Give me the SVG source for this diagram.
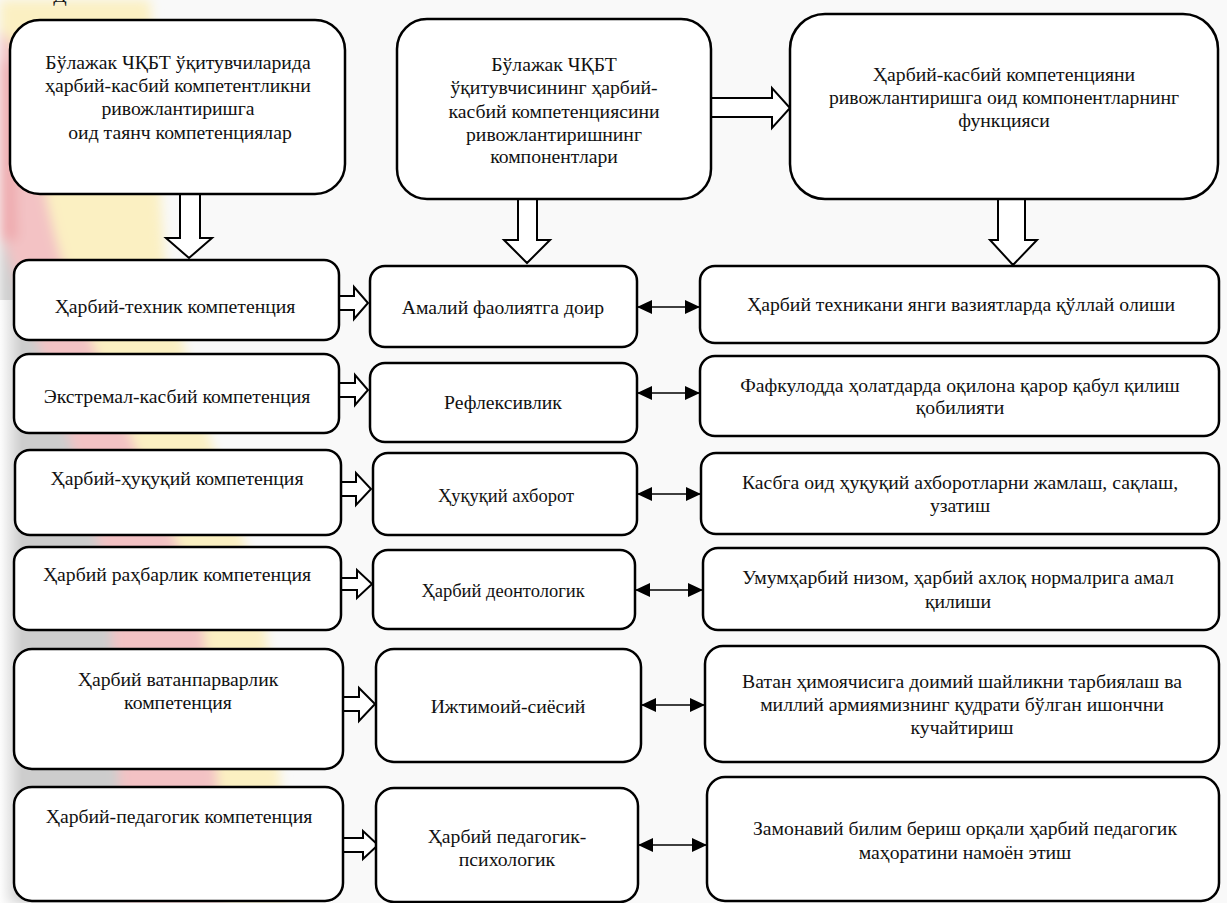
<svg xmlns="http://www.w3.org/2000/svg" width="1227" height="903" viewBox="0 0 1227 903">
<style>
.box{fill:#fff;stroke:#000;stroke-width:2.5}
.t{font-family:"Liberation Serif","Times New Roman",serif;font-size:19.7px;fill:#111;text-anchor:middle}
.sm{font-size:18.5px}
.blk{fill:#fff;stroke:#000;stroke-width:2;stroke-linejoin:miter}
.dbl{stroke:#000;stroke-width:1.5;fill:none;marker-start:url(#ah);marker-end:url(#ah)}
</style>
<defs>
<marker id="ah" markerUnits="userSpaceOnUse" markerWidth="15" markerHeight="14" refX="15" refY="7" orient="auto-start-reverse"><path d="M0,0 L15,7 L0,14 z" fill="#000"/></marker>
<filter id="bl" x="-20%" y="-5%" width="140%" height="110%"><feGaussianBlur stdDeviation="6"/></filter>
<linearGradient id="edge" x1="0" x2="1" y1="0" y2="0"><stop offset="0" stop-color="#fff" stop-opacity="0.9"/><stop offset="1" stop-color="#fff" stop-opacity="0"/></linearGradient>
</defs>
<rect width="1227" height="903" fill="#f9f9f9"/>
<g id="decor" filter="url(#bl)">
<path d="M0,0 L150,0 C155,80 160,200 165,260 C190,400 240,520 262,600 C275,700 282,800 288,903 L0,903 z" fill="#fbf0c2"/>
<path d="M0,30 C10,40 18,50 22,60 C35,150 50,220 62,260 C110,400 170,520 200,600 C212,700 220,800 225,903 L0,903 z" fill="#f3c2c4"/>
<path d="M0,230 C40,350 90,480 110,600 C116,700 120,800 124,903 L0,903 z" fill="#cdcdcd"/>
<path d="M0,60 C4,60 8,62 12,70 C14,130 16,200 18,240 L0,240 z" fill="#eeaaae"/>
</g>
<rect x="0" y="300" width="22" height="603" fill="url(#edge)"/>
<text class="t" x="60" y="2">Д</text>
<g id="connectors">
<polygon class="blk" points="180,194 200,194 200,238 212,238 189,258 166,238 180,238"/>
<polygon class="blk" points="518,199 537,199 537,240 550,240 527,263 504,240 518,240"/>
<polygon class="blk" points="998,199 1025,199 1025,240 1037,240 1013,265 990,240 998,240"/>
<polygon class="blk" points="711,98 772,98 772,88 790,108 772,128 772,117 711,117"/>
<polygon class="blk" points="339,296 354,296 354,287 368,303 354,319 354,310 339,310"/>
<polygon class="blk" points="339,383 355,383 355,375 368,390 355,405 355,397 339,397"/>
<polygon class="blk" points="341,482 356,482 356,473 371,489 356,505 356,496 341,496"/>
<polygon class="blk" points="341,578 357,578 357,570 372,584 357,598 357,590 341,590"/>
<polygon class="blk" points="343,697 359,697 359,688 375,704 359,721 359,711 343,711"/>
<polygon class="blk" points="343,838 363,838 363,831 378,845 363,859 363,852 343,852"/>
<line class="dbl" x1="637" y1="307" x2="700" y2="307"/>
<line class="dbl" x1="637" y1="393" x2="700" y2="393"/>
<line class="dbl" x1="637" y1="494" x2="701" y2="494"/>
<line class="dbl" x1="635" y1="590" x2="703" y2="590"/>
<line class="dbl" x1="641" y1="705" x2="705" y2="705"/>
<line class="dbl" x1="638" y1="845" x2="707" y2="845"/>
</g>
<g id="n-top-left">
<rect class="box" x="10" y="20" width="335" height="174" rx="30"/>
<text class="t" x="178" y="69">Бўлажак ЧҚБТ ўқитувчиларида</text>
<text class="t" x="178" y="92">ҳарбий-касбий компетентликни</text>
<text class="t" x="178" y="115">ривожлантиришга</text>
<text class="t" x="180" y="139">оид таянч компетенциялар</text>
</g>
<g id="n-top-mid">
<rect class="box" x="397" y="19" width="314" height="180" rx="30"/>
<text class="t" x="554" y="71">Бўлажак ЧҚБТ</text>
<text class="t" x="554" y="94">ўқитувчисининг ҳарбий-</text>
<text class="t" x="554" y="118">касбий компетенциясини</text>
<text class="t" x="554" y="141">ривожлантиришнинг</text>
<text class="t" x="554" y="163">компонентлари</text>
</g>
<g id="n-top-right">
<rect class="box" x="790" y="14" width="428" height="185" rx="35"/>
<text class="t" x="1004" y="81">Ҳарбий-касбий компетенцияни</text>
<text class="t" x="1004" y="104">ривожлантиришга оид компонентларнинг</text>
<text class="t" x="1004" y="127">функцияси</text>
</g>
<g id="n-l1"><rect class="box" x="14" y="260" width="325" height="80" rx="15"/><text class="t" x="175" y="313">Ҳарбий-техник компетенция</text></g>
<g id="n-l2"><rect class="box" x="14" y="354" width="325" height="79" rx="15"/><text class="t" x="177" y="403">Экстремал-касбий компетенция</text></g>
<g id="n-l3"><rect class="box" x="15" y="450" width="326" height="85" rx="15"/><text class="t" x="177" y="485">Ҳарбий-ҳуқуқий компетенция</text></g>
<g id="n-l4"><rect class="box" x="14" y="547" width="327" height="83" rx="15"/><text class="t" x="177" y="581">Ҳарбий раҳбарлик компетенция</text></g>
<g id="n-l5"><rect class="box" x="14" y="649" width="329" height="120" rx="18"/><text class="t" x="178" y="686">Ҳарбий ватанпарварлик</text><text class="t" x="178" y="709">компетенция</text></g>
<g id="n-l6"><rect class="box" x="14" y="787" width="329" height="114" rx="18"/><text class="t" x="179" y="823">Ҳарбий-педагогик  компетенция</text></g>
<g id="n-m1"><rect class="box" x="370" y="266" width="267" height="81" rx="15"/><text class="t" x="503" y="314">Амалий фаолиятга доир</text></g>
<g id="n-m2"><rect class="box" x="370" y="363" width="267" height="79" rx="15"/><text class="t" x="503" y="409">Рефлексивлик</text></g>
<g id="n-m3"><rect class="box" x="373" y="453" width="264" height="82" rx="15"/><text class="t sm" x="506" y="502">Ҳуқуқий ахборот</text></g>
<g id="n-m4"><rect class="box" x="373" y="550" width="262" height="79" rx="15"/><text class="t sm" x="503" y="597">Ҳарбий деонтологик</text></g>
<g id="n-m5"><rect class="box" x="376" y="649" width="265" height="113" rx="18"/><text class="t" x="508" y="713">Ижтимоий-сиёсий</text></g>
<g id="n-m6"><rect class="box" x="376" y="788" width="262" height="114" rx="18"/><text class="t" x="507" y="843">Ҳарбий педагогик-</text><text class="t" x="507" y="866">психологик</text></g>
<g id="n-r1"><rect class="box" x="700" y="266" width="519" height="77" rx="15"/><text class="t" x="961" y="311">Ҳарбий техникани янги вазиятларда қўллай олиши</text></g>
<g id="n-r2"><rect class="box" x="700" y="356" width="519" height="80" rx="15"/><text class="t" x="960" y="392">Фафкулодда ҳолатдарда оқилона қарор қабул қилиш</text><text class="t" x="960" y="414">қобилияти</text></g>
<g id="n-r3"><rect class="box" x="701" y="453" width="518" height="81" rx="15"/><text class="t" x="960" y="489">Касбга оид ҳуқуқий ахборотларни жамлаш, сақлаш,</text><text class="t" x="960" y="512">узатиш</text></g>
<g id="n-r4"><rect class="box" x="703" y="548" width="516" height="82" rx="15"/><text class="t" x="958" y="584">Умумҳарбий низом, ҳарбий ахлоқ нормалрига амал</text><text class="t" x="958" y="608">қилиши</text></g>
<g id="n-r5"><rect class="box" x="705" y="646" width="514" height="116" rx="18"/><text class="t" x="962" y="688">Ватан ҳимоячисига доимий шайликни тарбиялаш ва</text><text class="t" x="962" y="711">миллий армиямизнинг қудрати бўлган ишончни</text><text class="t" x="962" y="734">кучайтириш</text></g>
<g id="n-r6"><rect class="box" x="707" y="777" width="512" height="124" rx="18"/><text class="t" x="965" y="835">Замонавий билим бериш орқали ҳарбий педагогик</text><text class="t" x="965" y="859">маҳоратини намоён этиш</text></g>
</svg>
